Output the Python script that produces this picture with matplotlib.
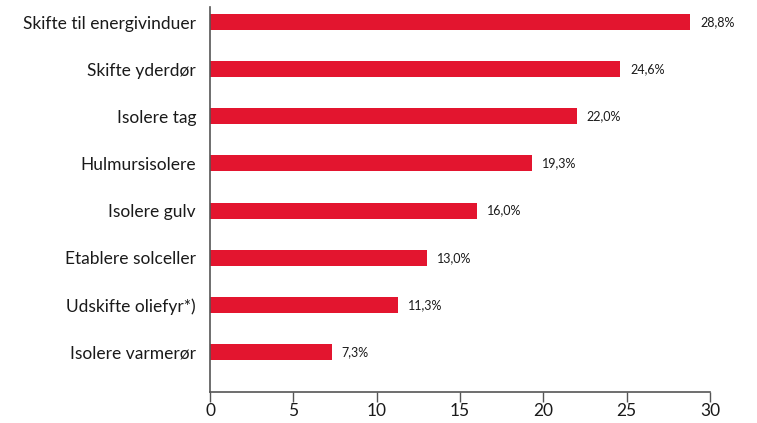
import matplotlib
matplotlib.use("Agg")
import matplotlib.pyplot as plt

categories = ["Skifte til energivinduer", "Skifte yderdør", "Isolere tag", "Hulmursisolere",
              "Isolere gulv", "Etablere solceller", "Udskifte oliefyr*)", "Isolere varmerør"]
values = [28.8, 24.6, 22.0, 19.3, 16.0, 13.0, 11.3, 7.3]
value_labels = ["28,8%", "24,6%", "22,0%", "19,3%", "16,0%", "13,0%", "11,3%", "7,3%"]
xticks = [0, 5, 10, 15, 20, 25, 30]

plt.rcParams['font.family'] = ['Lato', 'DejaVu Sans']

fig = plt.figure(figsize=(7.57, 4.23), dpi=100)
ax = fig.add_axes([210/757, 31/423, 500/757, 385/423])

n = len(categories)
ypos = list(range(n - 1, -1, -1))
ax.barh(ypos, values, height=0.34, color="#E3152F")
for y, v, lab in zip(ypos, values, value_labels):
    ax.text(v + 0.6, y, lab, va="center", ha="left", fontsize=9, color="#1a1a1a")

ax.set_xlim(0, 30)
ax.set_ylim(-0.85, n - 1 + 0.32)
ax.set_yticks(ypos)
ax.set_yticklabels(categories, fontsize=12.5, color="#1a1a1a")
ax.tick_params(axis="y", length=0, pad=10)
ax.set_xticks(xticks)
ax.set_xticklabels([str(t) for t in xticks], fontsize=12.5, color="#1a1a1a")
ax.tick_params(axis="x", length=7, width=1, color="#555555", pad=1)
for s in ["top", "right"]:
    ax.spines[s].set_visible(False)
for s in ["left", "bottom"]:
    ax.spines[s].set_color("#555555")
    ax.spines[s].set_linewidth(1.2)

fig.savefig("out.png", dpi=100)
